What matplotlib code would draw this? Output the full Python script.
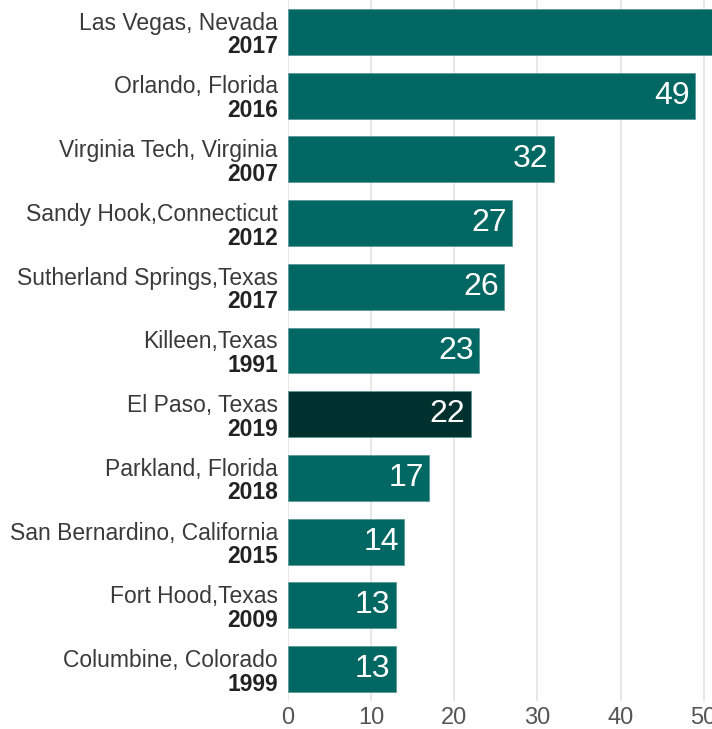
import matplotlib
matplotlib.use("Agg")
import matplotlib.pyplot as plt
from matplotlib.transforms import blended_transform_factory

places = ["Las Vegas, Nevada", "Orlando, Florida", "Virginia Tech, Virginia",
          "Sandy Hook,Connecticut", "Sutherland Springs,Texas", "Killeen,Texas",
          "El Paso, Texas", "Parkland, Florida", "San Bernardino, California",
          "Fort Hood,Texas", "Columbine, Colorado"]
years = ["2017", "2016", "2007", "2012", "2017", "1991", "2019", "2018", "2015", "2009", "1999"]
deaths = [58, 49, 32, 27, 26, 23, 22, 17, 14, 13, 13]
highlight = "El Paso, Texas"
xticks = [0, 10, 20, 30, 40, 50]

plt.rcParams['font.family'] = ['Liberation Sans', 'DejaVu Sans']

fig = plt.figure(figsize=(7.12, 7.29), dpi=100)
ax = fig.add_axes([0.4045, 0.0384, 0.5955, 0.9616])

ypos = list(range(len(places)))
colors = ["#01312f" if p == highlight else "#016763" for p in places]
ax.barh(ypos, deaths, height=0.72, color=colors, edgecolor="#5e9995",
        linewidth=0.6, zorder=2)

ax.set_xlim(0, 51)
ax.set_ylim(len(places) - 0.5, -0.5)
ax.set_xticks(xticks)
ax.set_xticklabels([str(t) for t in xticks])
ax.set_yticks([])
ax.grid(axis='x', color="#e3e3e3", linewidth=1.2, zorder=0)
ax.set_axisbelow(True)
for s in ax.spines.values():
    s.set_visible(False)
ax.tick_params(axis='x', length=0, pad=4, labelsize=17, labelcolor="#555555")

trans = blended_transform_factory(ax.transAxes, ax.transData)
for y, p, yr, v in zip(ypos, places, years, deaths):
    ax.text(-0.024, y - 0.135, p, transform=trans, ha='right', va='center',
            fontsize=16.5, color="#3a3a3a", clip_on=False)
    ax.text(-0.024, y + 0.235, yr, transform=trans, ha='right', va='center',
            fontsize=16.5, color="#222222", fontweight='bold', clip_on=False)
    ax.annotate(str(v), xy=(v, y), xytext=(-4, 0), textcoords='offset points',
                ha='right', va='center', fontsize=23, color="white",
                annotation_clip=True, zorder=3)

fig.savefig("out.png", dpi=100)
